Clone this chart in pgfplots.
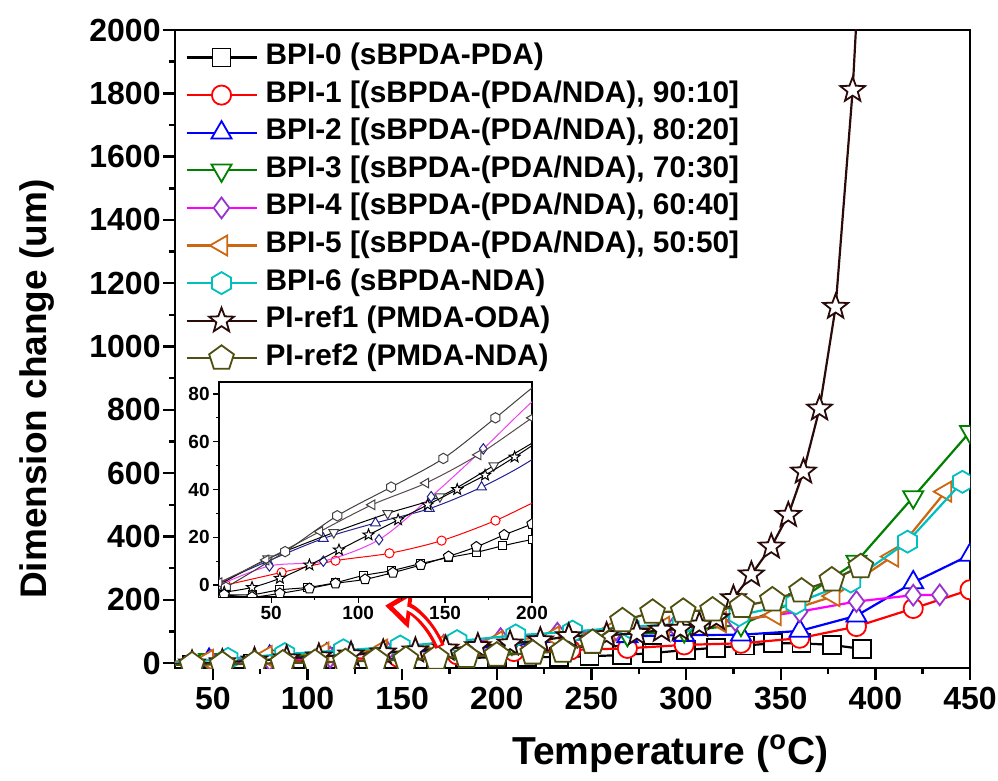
\documentclass[border=0pt]{standalone}
\usepackage{fontspec}
\setmainfont{Liberation Sans}
\usepackage{pgfplots}
\usepackage{pgfplotstable}
\pgfplotsset{compat=1.18}
\usetikzlibrary{arrows.meta}

\definecolor{c1}{HTML}{FF0000}
\definecolor{c2}{HTML}{0000FF}
\definecolor{c3}{HTML}{008000}
\definecolor{c4}{HTML}{FF00FF}
\definecolor{c4m}{HTML}{9933CC}
\definecolor{c5}{HTML}{CC6611}
\definecolor{c6}{HTML}{00BFBF}
\definecolor{c7}{HTML}{2B0A0A}
\definecolor{c8}{HTML}{4F4F10}
\definecolor{inavy}{HTML}{22228F}
\definecolor{igray}{HTML}{404040}
\definecolor{ibrown}{HTML}{5A4A4A}
\definecolor{imag}{HTML}{F040F0}

\pgfdeclareplotmark{hexagon}{%
  \pgfpathmoveto{\pgfpointpolar{90}{\pgfplotmarksize}}%
  \pgfpathlineto{\pgfpointpolar{150}{\pgfplotmarksize}}%
  \pgfpathlineto{\pgfpointpolar{210}{\pgfplotmarksize}}%
  \pgfpathlineto{\pgfpointpolar{270}{\pgfplotmarksize}}%
  \pgfpathlineto{\pgfpointpolar{330}{\pgfplotmarksize}}%
  \pgfpathlineto{\pgfpointpolar{30}{\pgfplotmarksize}}%
  \pgfpathclose\pgfusepathqfillstroke}
\pgfdeclareplotmark{ostar}{%
  \pgfpathmoveto{\pgfpointpolar{90}{\pgfplotmarksize}}%
  \pgfpathlineto{\pgfpointpolar{126}{0.42\pgfplotmarksize}}%
  \pgfpathlineto{\pgfpointpolar{162}{\pgfplotmarksize}}%
  \pgfpathlineto{\pgfpointpolar{198}{0.42\pgfplotmarksize}}%
  \pgfpathlineto{\pgfpointpolar{234}{\pgfplotmarksize}}%
  \pgfpathlineto{\pgfpointpolar{270}{0.42\pgfplotmarksize}}%
  \pgfpathlineto{\pgfpointpolar{306}{\pgfplotmarksize}}%
  \pgfpathlineto{\pgfpointpolar{342}{0.42\pgfplotmarksize}}%
  \pgfpathlineto{\pgfpointpolar{18}{\pgfplotmarksize}}%
  \pgfpathlineto{\pgfpointpolar{54}{0.42\pgfplotmarksize}}%
  \pgfpathclose\pgfusepathqfillstroke}

% BPI-0
\pgfplotstableread{
x y
22 -4
39 -4
55 -2
71 -1
87 1
103 4
119 6
136 9
152 11.5
168 13.7
183 16.4
200 19
216 20
233 19
249 22
266 26
282 32
300 42
316 49
331 56
346 63
361 63
377 58
393 45
}\dA
% BPI-1
\pgfplotstableread{
x y
24 0
56 5.3
87 10.2
118 13.3
148 18.6
179 27
209 37
239 42
269 47
299 58
329 63
360 79
390 116
420 173
450 232
}\dB
% BPI-2
\pgfplotstableread{
x y
20 1
48 10
80 19.5
110 26
141 32
171 41
201 53
235 72
269 85
299 89
329 90
360 102
390 150
420 255
450 342
}\dC
% BPI-3
\pgfplotstableread{
x y
20 0
48 11
86 22
117 30
147 37
178 50
208 63
238 78
269 90
299 102
329 122
360 200
390 321
420 525
450 731
}\dD
% BPI-4
\pgfplotstableread{
x y
20 0
49 8
80 10
112 19
142 37
172 57
202 78
232 95
263 105
294 118
326 135
360 163
390 195
420 215
434 216
}\dE
% BPI-5
\pgfplotstableread{
x y
20 1
47 10.5
78 22.4
108 33.6
139 42.7
169 54.5
200 70
230 85
259 100
288 115
318 130
347 152
378 212
409 337
437 542
}\dF
% BPI-6
\pgfplotstableread{
x y
24 -1
58 14
88 29
119 41
149 53
179 70
210 88
240 100
270 115
298 125
328 152
358 189
387 258
417 384
446 573
452 605
}\dG
% PI-ref1
\pgfplotstableread{
x y
23 -3
39 -1
55 2.8
72 8.4
89 14.7
106 21
123 27.3
140 33.6
157 40
173 46
190 53.6
207 62
223 72
238 85
258 88
274 95
287 105
297 108
307 121
316 142
325 205
334.5 280
345 368
354 468
362 605
370.5 804
379 1125
388 1810
391.5 2200
}\dH
% PI-ref2
\pgfplotstableread{
x y
23 -4
39 -5
55 -3.5
72 -1.4
87 0.7
104 2.4
120 5.2
136 8.4
152 12
168 16
184 21
200 25.6
219 32
235 38
250.6 66
266.4 134
282.3 161
298.5 164
314 168
329.5 179
345.6 200
361 228
377 263
392.3 305
}\dI

\begin{document}
\begin{tikzpicture}
\begin{axis}[name=main, at={(0pt,0pt)}, anchor=south west,
  scale only axis, width=397.5pt, height=319pt,
  xmin=30, xmax=450, ymin=-15, ymax=2000,
  xtick={50,100,...,450}, ytick={0,200,...,2000},
  minor x tick num=1, minor y tick num=1,
  tick align=outside, tick pos=left,
  major tick length=6pt, minor tick length=3pt,
  every tick/.style={black, line width=1.2pt},
  axis line style={line width=1.3pt},
  ticklabel style={font=\bfseries\fontsize{16}{18}\selectfont},
  yticklabel style={inner sep=1pt},
  /pgf/number format/assume math mode=true,
  /pgf/number format/1000 sep={},
  scaled ticks=false,
  clip marker paths=true,
  xlabel={Temperature (\textsuperscript{o}C)},
  ylabel={Dimension change (um)},
  x label style={font=\bfseries\fontsize{19.5}{23}\selectfont, at={(axis description cs:0.623,-0.134)}, anchor=center},
  y label style={font=\bfseries\fontsize{18.5}{22}\selectfont, at={(axis description cs:-0.1736,0.437)}, anchor=center},
  legend style={at={(axis description cs:0.0126,0.981)}, anchor=north west,
    draw=none, fill=none, inner sep=0pt, row sep=3.8pt, column sep=4pt,
    font=\bfseries\fontsize{14.9}{16}\selectfont,
    nodes={inner sep=0pt, text height=11pt, text depth=4pt}},
  legend cell align=left,
  legend image code/.code={\draw[mark repeat=2,mark phase=2,#1] plot coordinates {(0pt,0pt) (17.5pt,0pt) (35pt,0pt)};},
]
\addplot[black, line width=1.1pt, mark=square*, mark size=4.5pt, mark options={fill=white, line width=0.9pt}] table {\dA};
\addlegendentry{BPI-0 (sBPDA-PDA)}
\addplot[c1, line width=1.1pt, mark=*, mark size=4.8pt, mark options={fill=white, line width=0.9pt}] table {\dB};
\addlegendentry{BPI-1 [(sBPDA-(PDA/NDA), 90:10]}
\addplot[c2, line width=1.1pt, mark=triangle*, mark size=5.8pt, mark options={fill=white, line width=0.9pt}] table {\dC};
\addlegendentry{BPI-2 [(sBPDA-(PDA/NDA), 80:20]}
\addplot[c3, line width=1.1pt, mark=triangle*, mark size=5.8pt, mark options={fill=white, line width=0.9pt, rotate=180}] table {\dD};
\addlegendentry{BPI-3 [(sBPDA-(PDA/NDA), 70:30]}
\addplot[c4, line width=1.1pt, mark=diamond*, mark size=5.2pt, mark options={draw=c4m, fill=white, line width=0.9pt}] table {\dE};
\addlegendentry{BPI-4 [(sBPDA-(PDA/NDA), 60:40]}
\addplot[c5, line width=1.1pt, mark=triangle*, mark size=5.8pt, mark options={fill=white, line width=0.9pt, rotate=90}] table {\dF};
\addlegendentry{BPI-5 [(sBPDA-(PDA/NDA), 50:50]}
\addplot[c6, line width=1.1pt, mark=hexagon, mark size=5.5pt, mark options={fill=white, line width=0.9pt}] table {\dG};
\addlegendentry{BPI-6 (sBPDA-NDA)}
\addplot[c7, line width=1.1pt, mark=ostar, mark size=6.5pt, mark options={fill=white, line width=0.9pt}] table {\dH};
\addlegendentry{PI-ref1 (PMDA-ODA)}
\addplot[c8, line width=1.1pt, mark=pentagon*, mark size=6.5pt, mark options={fill=white, line width=0.9pt}] table {\dI};
\addlegendentry{PI-ref2 (PMDA-NDA)}
\draw[red, line width=5pt, -{Triangle[length=13pt,width=19pt]}] (axis cs:170,52) to[bend right=30] (axis cs:141,182);
\draw[white, line width=1.8pt, shorten >=4pt, shorten <=1pt, -{Triangle[length=7pt,width=10pt]}] (axis cs:170,52) to[bend right=30] (axis cs:141,182);
\end{axis}

\begin{axis}[name=inset, at={(22pt,35.5pt)}, anchor=south west,
  scale only axis, width=156.5pt, height=107.5pt,
  xmin=20, xmax=200, ymin=-5, ymax=85,
  xtick={50,100,150,200}, ytick={0,20,...,80},
  minor x tick num=1, minor y tick num=1,
  tick align=outside, tick pos=left,
  major tick length=3pt, minor tick length=1.6pt,
  every tick/.style={black, line width=0.6pt},
  axis line style={line width=0.7pt},
  ticklabel style={font=\bfseries\fontsize{9.5}{11}\selectfont, inner sep=1.5pt},
  /pgf/number format/assume math mode=true,
  axis background/.style={fill=white},
  clip marker paths=true,
]
\addplot[black, line width=0.5pt, smooth, mark=square*, mark size=2pt, mark options={fill=white}] table {\dA};
\addplot[c1, line width=0.5pt, smooth, mark=*, mark size=2.3pt, mark options={fill=white}] table {\dB};
\addplot[inavy, line width=0.5pt, smooth, mark=triangle*, mark size=2.8pt, mark options={fill=white}] table {\dC};
\addplot[black, line width=0.5pt, smooth, mark=triangle*, mark size=2.8pt, mark options={draw=igray, fill=white, rotate=180}] table {\dD};
\addplot[imag, line width=0.5pt, smooth, mark=diamond*, mark size=2.6pt, mark options={draw=inavy, fill=white}] table {\dE};
\addplot[ibrown, line width=0.5pt, smooth, mark=triangle*, mark size=2.8pt, mark options={draw=igray, fill=white, rotate=90}] table {\dF};
\addplot[igray, line width=0.5pt, smooth, mark=hexagon, mark size=2.6pt, mark options={fill=white}] table {\dG};
\addplot[black, line width=0.5pt, smooth, mark=ostar, mark size=2.9pt, mark options={fill=white}] table {\dH};
\addplot[black, line width=0.5pt, smooth, mark=pentagon*, mark size=2.7pt, mark options={fill=white}] table {\dI};
\end{axis}
\pgfresetboundingbox
\path ([xshift=-87.5pt,yshift=-56pt]main.south west) rectangle ([xshift=14pt,yshift=15pt]main.north east);
\end{tikzpicture}
\end{document}
